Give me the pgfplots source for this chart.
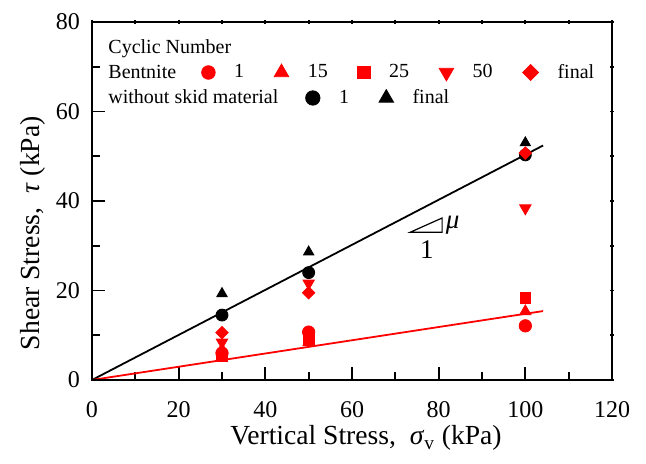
\documentclass[border=0pt]{standalone}
\usepackage{fontspec}
\setmainfont{Liberation Serif}
\usepackage{pgfplots}
\pgfplotsset{compat=1.18}

% marker styles shared by the data and the key
\pgfplotsset{
  cyc1/.style={only marks, mark=*, color=red, mark size=3.1pt},
  cyc15/.style={only marks, mark=triangle*, color=red, mark size=3.3pt},
  cyc25/.style={only marks, mark=square*, color=red, mark size=2.7pt},
  cyc50/.style={only marks, mark=triangle*, color=red, mark size=3.3pt, mark options={rotate=180}},
  cycfin/.style={only marks, mark=square*, color=red, mark size=2.2pt, mark options={rotate=45}},
  ref1/.style={only marks, mark=*, color=black, mark size=3.0pt},
  reffin/.style={only marks, mark=triangle*, color=black, mark size=3.0pt},
  keystyle/.style={
    legend columns=-1,
    legend style={draw=none, fill=none, inner sep=0pt, outer sep=0pt,
      nodes={inner sep=0pt},
      font=\fontsize{10}{12}\selectfont,
      /tikz/every odd column/.style={column sep=9.5pt},
      /tikz/every even column/.style={column sep=15pt}},
    legend image code/.code={\draw[##1] plot coordinates {(0pt,0pt)};},
  },
  frame/.style={
    scale only axis, width=260pt, height=179pt,
    xmin=0, xmax=120, ymin=0, ymax=80,
    xtick={0,20,...,120}, ytick={0,20,...,80},
    minor x tick num=1, minor y tick num=1,
    axis line style={line width=0.9pt},
    every tick/.style={black, line width=0.9pt},
  },
}

\begin{document}
\begin{tikzpicture}
\begin{axis}[
  name=main, frame,
  tick align=inside, tick pos=left,
  major tick length=6.5pt, minor tick length=4pt,
  tick label style={font=\fontsize{12}{14}\selectfont},
  xticklabel style={yshift=-7pt},
  yticklabel style={xshift=-2.5pt},
  /pgf/number format/assume math mode=true,
  xlabel={Vertical Stress,\ \ \textit{σ}\textsubscript{v} (kPa)},
  ylabel={Shear Stress,\ \ \textit{τ} (kPa)},
  every axis x label/.style={at={(axis description cs:0.527,-0.1816)}, anchor=base},
  every axis y label/.style={at={(axis description cs:-0.1,0.41)}, rotate=90, anchor=base},
  label style={font=\fontsize{13.8}{16}\selectfont},
  clip=false,
  keystyle,
  legend style={at={(axis description cs:0.2108,0.8589)}, anchor=west},
]
% fitted friction lines
\addplot[black, line width=0.9pt, forget plot] coordinates {(0,0) (104.1,52.4)};
\addplot[red, line width=0.9pt, forget plot] coordinates {(0,0) (104.1,15.4)};

% without skid material
\addplot[ref1, forget plot] coordinates {(30,14.5) (50,24.0) (100,50.3)};
\addplot[reffin, forget plot] coordinates {(30,19.3) (50,28.6) (100,53.0)};

% bentonite, by cycle number
\addplot[cyc1, forget plot] coordinates {(30,6.0) (50,10.7) (100,12.1)};
\addplot[cyc15, forget plot] coordinates {(30,6.8) (50,8.4) (100,15.3)};
\addplot[cyc25, forget plot] coordinates {(30,5.4) (50,9.0) (100,18.3)};
\addplot[cyc50, forget plot] coordinates {(30,8.4) (50,21.6) (100,38.4)};
\addplot[cycfin, forget plot] coordinates {(30,10.6) (50,19.5) (100,50.7)};

\addlegendimage{cyc1, mark size=3.4pt}\addlegendentry{1}
\addlegendimage{cyc15, mark size=4.2pt}\addlegendentry{15}
\addlegendimage{cyc25, mark size=3.1pt}\addlegendentry{25}
\addlegendimage{cyc50, mark size=4.2pt}\addlegendentry{50}
\addlegendimage{cycfin, mark size=2.8pt}\addlegendentry{final}

% slope triangle
\draw[line width=0.6pt] (axis cs:73.4,33.0) -- (axis cs:80.8,33.0) -- (axis cs:80.8,36.2) -- cycle;
\node[font=\fontsize{13.5}{16}\selectfont] at (axis cs:83.2,34.6) {\textit{μ}};
\node[font=\fontsize{13.5}{16}\selectfont] at (axis cs:77.3,29.1) {1};

% key text
\node[anchor=base west, font=\fontsize{10}{12}\selectfont, inner sep=0pt] at (axis description cs:0.0308,0.9106) {Cyclic Number};
\node[anchor=base west, font=\fontsize{10}{12}\selectfont, inner sep=0pt] at (axis description cs:0.0308,0.8427) {Bentnite};
\node[anchor=base west, font=\fontsize{10}{12}\selectfont, inner sep=0pt] at (axis description cs:0.0308,0.7729) {without skid material};
\end{axis}

% short ticks on the top and right edges, and the second key row
\begin{axis}[
  frame,
  tick align=center, tick pos=right,
  major tick length=2pt, minor tick length=2pt,
  xticklabels={}, yticklabels={},
  keystyle,
  legend style={at={(axis description cs:0.4108,0.7877)}, anchor=west},
]
\addlegendimage{ref1, mark size=3.6pt}\addlegendentry{1}
\addlegendimage{reffin, mark size=4.2pt}\addlegendentry{final}
\end{axis}

\pgfresetboundingbox
\path ([shift={(-46pt,-42pt)}]main.south west) rectangle ([shift={(17pt,11pt)}]main.north east);
\end{tikzpicture}
\end{document}
